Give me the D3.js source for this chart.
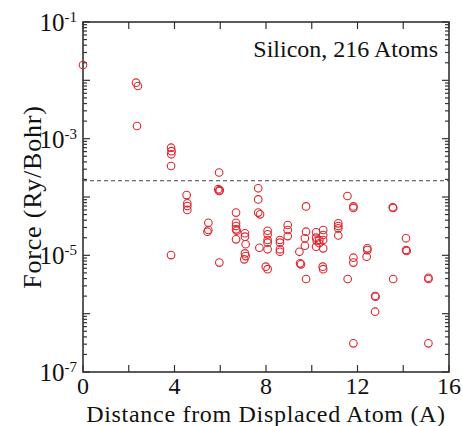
<!DOCTYPE html>
<html>
<head>
<meta charset="utf-8">
<script src="https://cdn.jsdelivr.net/npm/d3@7"></script>
<style>
  body { margin: 0; background: #fff; }
  svg { display: block; }
  text { font-family: "Liberation Serif", "DejaVu Serif", serif; fill: #111; }
</style>
</head>
<body>
<div class="chart"></div>
<script>
// distance from displaced atom (A) and force (Ry/Bohr)
var distance = [
  0.0, 2.32, 2.40, 2.36, 3.85, 3.87, 3.86, 3.85, 5.95, 5.91, 5.95, 5.98,
  4.53, 4.56, 4.56, 4.56, 5.48, 5.48, 5.44, 3.85, 5.96,
  6.69, 6.69, 6.69, 6.69, 6.72, 6.69, 7.08, 7.08, 7.11, 7.08, 7.11, 7.05,
  7.66, 7.66, 7.66, 7.74, 7.71, 8.07, 8.07, 8.07, 8.07, 8.07, 7.99, 8.07,
  8.61, 8.61, 8.61, 8.61, 8.95, 8.95, 8.95, 9.46, 9.49, 9.53,
  9.75, 9.75, 9.70, 9.70, 9.75, 10.19, 10.19, 10.22, 10.19, 10.33, 10.33,
  10.50, 10.50, 10.50, 10.50, 10.48, 10.50, 11.16, 11.16, 11.16, 11.16,
  11.56, 11.57, 11.82, 11.82, 11.82, 11.82, 11.82, 12.43, 12.43, 12.40,
  12.77, 12.79, 12.77, 13.54, 13.56, 13.56, 14.12, 14.12, 14.15,
  15.10, 15.10, 15.10
];
var force = [
  1.83e-2, 9.1e-3, 8.0e-3, 1.65e-3, 7.0e-4, 6.1e-4, 5.4e-4, 3.4e-4, 2.63e-4, 1.36e-4, 1.27e-4, 1.31e-4,
  1.08e-4, 7.8e-5, 7.0e-5, 6.0e-5, 3.62e-5, 2.72e-5, 2.54e-5, 1.01e-5, 7.5e-6,
  5.4e-5, 3.62e-5, 3.18e-5, 2.79e-5, 2.64e-5, 1.88e-5, 2.39e-5, 2.09e-5, 1.55e-5, 1.08e-5, 9.7e-6, 8.55e-6,
  1.41e-4, 9.1e-5, 5.4e-5, 5.05e-5, 1.35e-5, 2.64e-5, 2.29e-5, 1.83e-5, 1.65e-5, 1.27e-5, 6.4e-6, 5.8e-6,
  1.83e-5, 1.65e-5, 1.27e-5, 1.15e-5, 3.31e-5, 2.72e-5, 2.14e-5, 1.15e-5, 7.3e-6, 7.0e-6,
  6.9e-5, 2.54e-5, 1.96e-5, 1.46e-5, 3.93e-6, 2.48e-5, 2.01e-5, 1.76e-5, 1.41e-5, 1.83e-5, 1.61e-5,
  2.72e-5, 2.23e-5, 1.83e-5, 1.32e-5, 6.4e-6, 5.8e-6, 3.54e-5, 3.18e-5, 2.9e-5, 2.19e-5,
  1.04e-4, 3.93e-6, 6.9e-5, 6.5e-5, 9.1e-6, 7.5e-6, 3.1e-7, 1.32e-5, 1.23e-5, 9.5e-6,
  2.01e-6, 1.95e-6, 1.08e-6, 6.65e-5, 6.5e-5, 3.93e-6, 1.96e-5, 1.23e-5, 1.19e-5,
  4.13e-6, 3.93e-6, 3.1e-7
];
var threshold = 1.9e-4;
var xTicks = [0, 2, 4, 6, 8, 10, 12, 14, 16];
var xLabels = [0, 4, 8, 12, 16];
var yLabels = [-1, -3, -5, -7]; // exponents shown on the axis
var title = "Silicon, 216 Atoms";

var W = 462, H = 426;
var margin = {left: 83, right: 13, top: 22, bottom: 54};

var svg = d3.select(".chart").append("svg")
    .attr("width", W)
    .attr("height", H);

var x = d3.scaleLinear().domain([0, 16]).range([margin.left, W - margin.right]);
var y = d3.scaleLog().domain([1e-7, 1e-1]).range([H - margin.bottom, margin.top]);

var x0 = x.range()[0], x1 = x.range()[1], y0 = y.range()[0], y1 = y.range()[1];

// ticks, drawn inward on all four sides
var ticks = svg.append("g").attr("stroke", "#333").attr("stroke-width", 1.2);
xTicks.forEach(function(t) {
  ticks.append("line").attr("x1", x(t)).attr("x2", x(t)).attr("y1", y0).attr("y2", y0 - 7);
  ticks.append("line").attr("x1", x(t)).attr("x2", x(t)).attr("y1", y1).attr("y2", y1 + 7);
});
for (var e = -7; e <= -1; e++) {
  for (var m = 1; m <= 9; m++) {
    var v = m * Math.pow(10, e);
    if (v > 0.1001) break;
    var len = (m == 1) ? 7 : 4;
    ticks.append("line").attr("x1", x0).attr("x2", x0 + len).attr("y1", y(v)).attr("y2", y(v));
    ticks.append("line").attr("x1", x1).attr("x2", x1 - len).attr("y1", y(v)).attr("y2", y(v));
  }
}

// frame
svg.append("rect")
    .attr("x", x0).attr("y", y1)
    .attr("width", x1 - x0).attr("height", y0 - y1)
    .attr("fill", "none")
    .attr("stroke", "#333")
    .attr("stroke-width", 1.6);

// dashed threshold line
svg.append("line")
    .attr("x1", x0).attr("x2", x1)
    .attr("y1", y(threshold)).attr("y2", y(threshold))
    .attr("stroke", "#444")
    .attr("stroke-width", 1)
    .attr("stroke-dasharray", "4,3");

// points
var points = distance.map(function(d, i) { return {d: d, f: force[i]}; });
svg.append("g").selectAll("circle")
    .data(points)
    .enter().append("circle")
      .attr("cx", function(p) { return x(p.d); })
      .attr("cy", function(p) { return y(p.f); })
      .attr("r", 3.8)
      .attr("fill", "none")
      .attr("stroke", "#e0262e")
      .attr("stroke-width", 1.1);

// x tick labels
svg.append("g").selectAll("text")
    .data(xLabels)
    .enter().append("text")
      .attr("x", function(t) { return x(t); })
      .attr("y", y0 + 22)
      .attr("text-anchor", "middle")
      .style("font-size", "24px")
      .text(function(t) { return t; });

// y tick labels, 10 with a superscript exponent
var yl = svg.append("g").selectAll("text")
    .data(yLabels)
    .enter().append("text")
      .attr("x", x0 - 6)
      .attr("y", function(e) { return y(Math.pow(10, e)) + 9; })
      .attr("text-anchor", "end")
      .style("font-size", "25px");
yl.append("tspan").text("10");
yl.append("tspan")
    .attr("dy", -9)
    .style("font-size", "15px")
    .text(function(e) { return e; });

// axis titles
svg.append("text")
    .attr("x", (x0 + x1) / 2)
    .attr("y", H - 4)
    .attr("text-anchor", "middle")
    .style("font-size", "24px")
    .style("letter-spacing", "0.7px")
    .text("Distance from Displaced Atom (A)");

svg.append("text")
    .attr("transform", "translate(41," + (y0 + y1) / 2 + ") rotate(-90)")
    .attr("text-anchor", "middle")
    .style("font-size", "26px")
    .style("letter-spacing", "0.8px")
    .text("Force (Ry/Bohr)");

svg.append("text")
    .attr("x", x1 - 11)
    .attr("y", y1 + 35)
    .attr("text-anchor", "end")
    .style("font-size", "24px")
    .text(title);
</script>
</body>
</html>
